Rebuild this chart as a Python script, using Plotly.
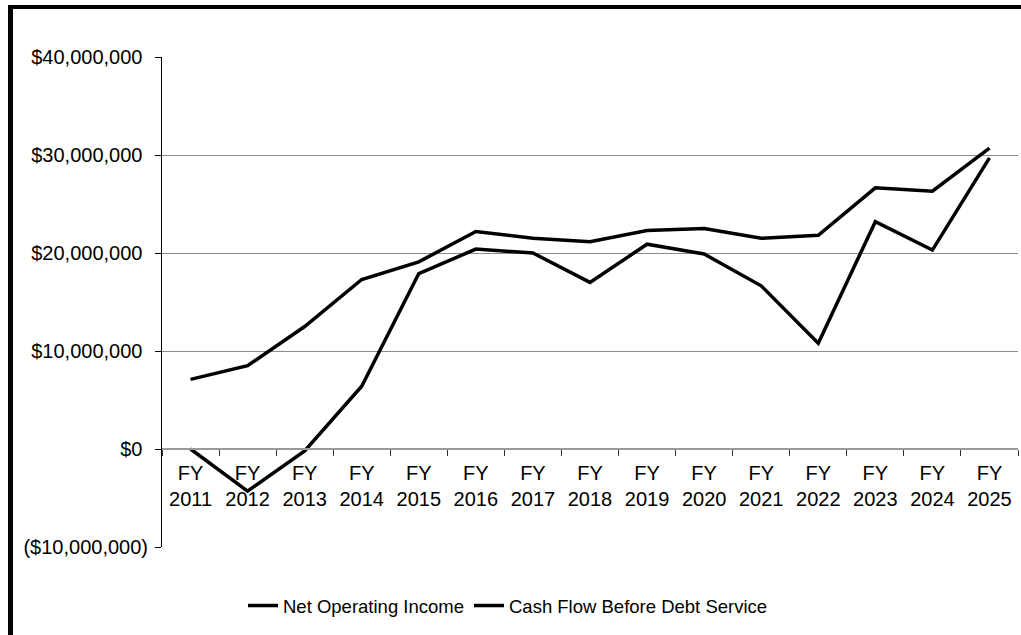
import plotly.graph_objects as go

# Fiscal years shown on the category axis
years = ["FY 2011", "FY 2012", "FY 2013", "FY 2014", "FY 2015", "FY 2016", "FY 2017",
         "FY 2018", "FY 2019", "FY 2020", "FY 2021", "FY 2022", "FY 2023", "FY 2024", "FY 2025"]
tick_labels = [y.replace(" ", "<br>") for y in years]

# Annual values in dollars
net_operating_income = [7_100_000, 8_500_000, 12_500_000, 17_300_000, 19_100_000, 22_200_000,
                        21_500_000, 21_150_000, 22_300_000, 22_500_000, 21_500_000, 21_800_000,
                        26_650_000, 26_300_000, 30_700_000]
cash_flow_before_debt = [0, -4_300_000, -200_000, 6_400_000, 17_900_000, 20_400_000,
                         20_000_000, 17_000_000, 20_900_000, 19_900_000, 16_650_000, 10_800_000,
                         23_200_000, 20_300_000, 29_700_000]

# Value-axis ticks (positive values padded to line up with the closing parenthesis)
y_ticks = [-10_000_000, 0, 10_000_000, 20_000_000, 30_000_000, 40_000_000]
y_tick_text = ["($10,000,000)", "$0\u00a0", "$10,000,000\u00a0", "$20,000,000\u00a0",
               "$30,000,000\u00a0", "$40,000,000\u00a0"]
grid_values = [10_000_000, 20_000_000, 30_000_000]

FAMILY = "Liberation Sans, Arial, sans-serif"
TICK_FONT = dict(family=FAMILY, size=20, color="black")
LEGEND_FONT = dict(family=FAMILY, size=18.5, color="black")

fig = go.Figure()
fig.add_trace(go.Scatter(x=years, y=net_operating_income, name="Net Operating Income",
                         mode="lines", line=dict(color="black", width=3.5)))
fig.add_trace(go.Scatter(x=years, y=cash_flow_before_debt, name="Cash Flow Before Debt Service",
                         mode="lines", line=dict(color="black", width=3.5)))
# Invisible trace on an overlaid axis that only carries the interior gridlines
fig.add_trace(go.Scatter(x=years, y=[None] * len(years), yaxis="y2", showlegend=False,
                         hoverinfo="skip"))

y_range = [-10_000_000, 40_000_000]
zero_pos = (0 - y_range[0]) / (y_range[1] - y_range[0])

# Frame around the whole chart (paper coordinates extend past the plot area)
W, H = 1021, 635
ml, mr, mt, mb = 162, 3, 57, 88
pw, ph = W - ml - mr, H - mt - mb
def px_x(px):
    return (px - ml) / pw
def px_y(py):
    return (H - mb - py) / ph

fig.add_shape(type="line", xref="paper", yref="paper", x0=px_x(10.5), x1=px_x(10.5),
              y0=px_y(5), y1=px_y(660), line=dict(color="black", width=5))
fig.add_shape(type="line", xref="paper", yref="paper", x0=px_x(8), x1=px_x(1040),
              y0=px_y(7), y1=px_y(7), line=dict(color="black", width=4))

fig.update_layout(
    width=W, height=H,
    margin=dict(l=ml, r=mr, t=mt, b=mb),
    paper_bgcolor="white", plot_bgcolor="white",
    font=TICK_FONT,
    showlegend=True,
    legend=dict(orientation="h", x=px_x(508), xanchor="center", y=px_y(606), yanchor="middle",
                font=LEGEND_FONT, itemwidth=30, tracegroupgap=0, bgcolor="rgba(0,0,0,0)"),
    xaxis=dict(type="category", range=[-0.5, len(years) - 0.5],
               tickvals=years, ticktext=tick_labels,
               anchor="free", position=zero_pos,
               showline=True, linecolor="#999999", linewidth=1.5,
               ticks="outside", tickson="boundaries", ticklen=6, tickcolor="#333333",
               showgrid=False, zeroline=False, tickfont=TICK_FONT, ticklabelstandoff=6),
    yaxis=dict(range=y_range, tickvals=y_ticks, ticktext=y_tick_text,
               showline=True, linecolor="black", linewidth=1,
               ticks="outside", ticklen=6, tickcolor="black",
               showgrid=False, zeroline=False, tickfont=TICK_FONT, ticklabelstandoff=3),
    yaxis2=dict(range=y_range, overlaying="y", tickvals=grid_values, showticklabels=False,
                showgrid=True, gridcolor="#8c8c8c", gridwidth=1, zeroline=False,
                showline=False, ticks=""),
)

fig.write_html("out.html")
